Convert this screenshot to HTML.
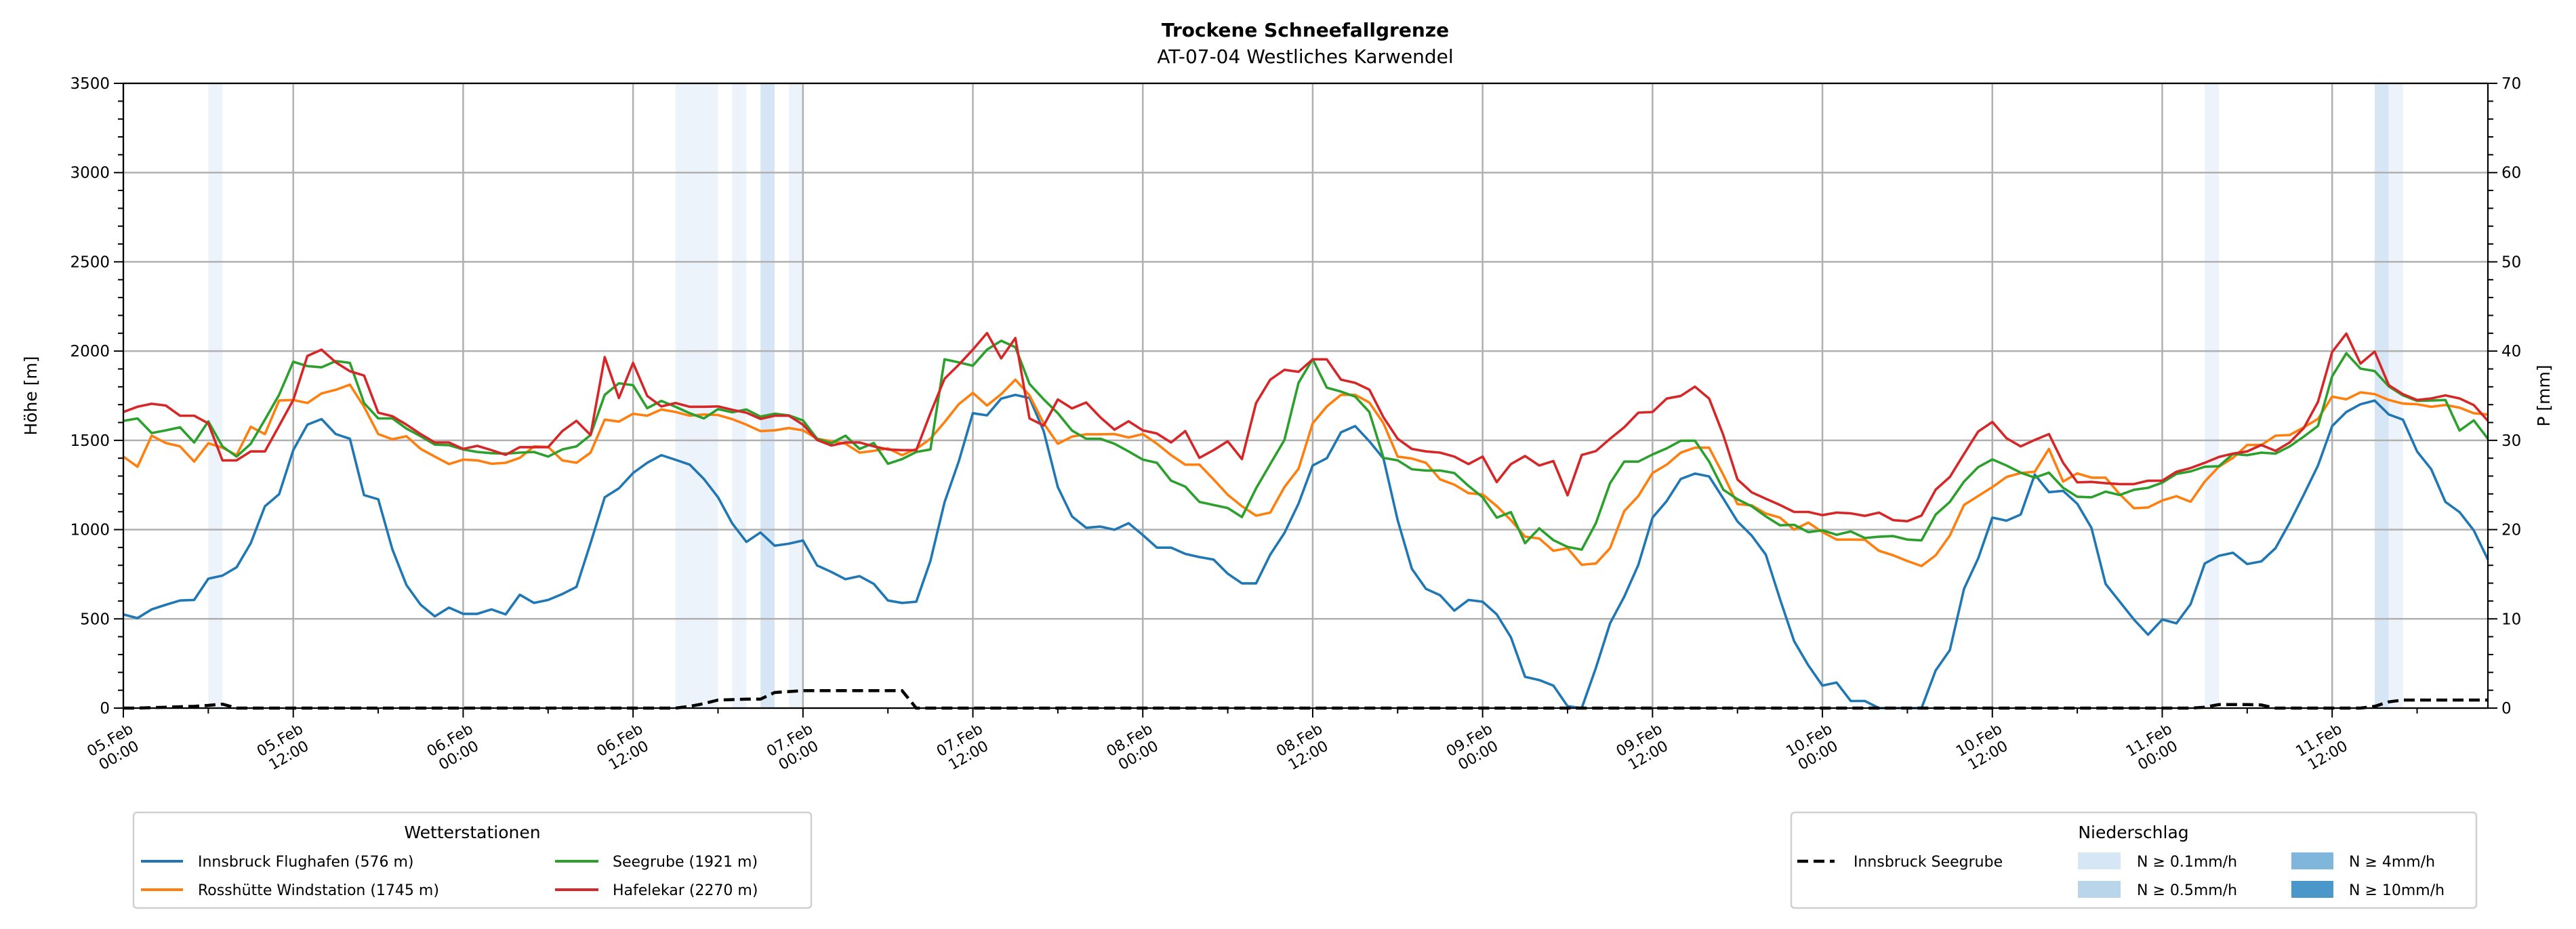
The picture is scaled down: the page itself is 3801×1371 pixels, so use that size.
<!DOCTYPE html>
<html><head><meta charset="utf-8">
<style>
html,body{margin:0;padding:0;background:#fff;}
svg{display:block;font-family:"DejaVu Sans","Liberation Sans",sans-serif;}
</style></head>
<body>
<svg id="chart" width="3801" height="1371" viewBox="0 0 3801 1371" xmlns="http://www.w3.org/2000/svg">
<rect width="3801" height="1371" fill="#fff"/>
<text x="1926" y="54" text-anchor="middle" font-size="28" font-weight="bold">Trockene Schneefallgrenze</text>
<text x="1926" y="93" text-anchor="middle" font-size="28">AT-07-04 Westliches Karwendel</text>
<g id="bands"></g>
<g id="grid"></g>
<g id="series"></g>
<g id="axes"></g>
<text transform="translate(54,584) rotate(-90)" text-anchor="middle" font-size="25">Höhe [m]</text>
<text transform="translate(3762,584) rotate(-90)" text-anchor="middle" font-size="25">P [mm]</text>

<g>
<rect x="197" y="1199" width="1000" height="141" rx="5" fill="#fff" stroke="#d0d0d0" stroke-width="2.5"/>
<text x="697" y="1237" text-anchor="middle" font-size="25">Wetterstationen</text>
<g><line x1="208" y1="1271" x2="270" y2="1271" stroke="#1f77b4" stroke-width="4"/><text x="292" y="1279" font-size="22">Innsbruck Flughafen (576 m)</text></g>
<g><line x1="208" y1="1313" x2="270" y2="1313" stroke="#ff7f0e" stroke-width="4"/><text x="292" y="1321" font-size="22">Rosshütte Windstation (1745 m)</text></g>
<g><line x1="819" y1="1271" x2="883" y2="1271" stroke="#2ca02c" stroke-width="4"/><text x="904" y="1279" font-size="22">Seegrube (1921 m)</text></g>
<g><line x1="819" y1="1313" x2="883" y2="1313" stroke="#d62728" stroke-width="4"/><text x="904" y="1321" font-size="22">Hafelekar (2270 m)</text></g>
</g>

<g>
<rect x="2643" y="1199" width="1011" height="141" rx="5" fill="#fff" stroke="#d0d0d0" stroke-width="2.5"/>
<text x="3148" y="1237" text-anchor="middle" font-size="25">Niederschlag</text>
<g><line x1="2652" y1="1271" x2="2707" y2="1271" stroke="#000" stroke-width="4.5" stroke-dasharray="16,8"/><text x="2735" y="1279" font-size="22">Innsbruck Seegrube</text></g>
<g><rect x="3066" y="1258" width="63" height="25" fill="#d6e6f4"/><text x="3153" y="1279" font-size="22">N ≥ 0.1mm/h</text></g>
<g><rect x="3066" y="1300" width="63" height="25" fill="#b8d5ea"/><text x="3153" y="1321" font-size="22">N ≥ 0.5mm/h</text></g>
<g><rect x="3381" y="1258" width="62" height="25" fill="#80b6db"/><text x="3466" y="1279" font-size="22">N ≥ 4mm/h</text></g>
<g><rect x="3381" y="1300" width="62" height="25" fill="#4a97c9"/><text x="3466" y="1321" font-size="22">N ≥ 10mm/h</text></g>
</g>
</svg>
<script>
const innsbruck = [525,504,553,579,603,606,725,742,789,924,1131,1198,1445,1588,1619,1535,1509,1193,1170,889,689,579,514,563,528,528,553,525,635,589,606,639,679,924,1181,1231,1317,1374,1417,1391,1364,1284,1181,1035,
931,984,910,921,939,799,763,722,739,696,603,589,596,825,1153,1381,1652,1640,1734,1755,1737,1552,1238,1074,1010,1017,999,1036,970,899,899,864,846,832,753,699,699,860,981,1146,1359,1400,
1545,1580,1495,1398,1053,781,668,632,546,606,596,525,397,175,157,126,11,0,225,475,624,803,1067,1160,1284,1314,1298,1174,1046,967,860,611,375,240,126,143,40,40,0,0,0,0,
211,325,668,839,1067,1050,1084,1309,1210,1217,1145,1010,696,596,496,411,496,475,582,810,853,870,807,822,896,1039,1196,1359,1580,1659,1702,1723,1645,1616,1438,1338,1155,1098,996,832];
const rosshuette = [1409,1352,1526,1485,1466,1381,1484,1459,1417,1576,1535,1723,1726,1709,1763,1783,1812,1688,1535,1506,1523,1452,1409,1367,1392,1388,1369,1374,1402,1466,1463,1388,1374,1431,1616,1605,1649,1638,1673,1659,1638,1645,1642,1619,
1588,1552,1556,1569,1556,1509,1495,1481,1431,1441,1455,1417,1452,1509,1602,1702,1766,1695,1759,1840,1752,1595,1481,1521,1534,1534,1535,1516,1535,1481,1417,1364,1364,1281,1195,1131,1078,1095,1238,1341,1595,1690,
1755,1755,1712,1595,1409,1398,1374,1281,1252,1204,1197,1132,1053,960,950,881,896,803,810,896,1103,1188,1317,1364,1431,1459,1459,1307,1143,1136,1090,1067,1000,1039,986,944,944,943,881,856,824,796,
856,967,1138,1188,1238,1295,1317,1324,1452,1269,1315,1291,1291,1198,1120,1124,1163,1187,1156,1269,1352,1402,1474,1474,1526,1530,1573,1620,1745,1730,1769,1759,1726,1706,1702,1688,1698,1683,1652,1645];
const seegrube = [1609,1623,1541,1556,1573,1488,1606,1466,1409,1481,1616,1755,1940,1916,1909,1944,1934,1709,1623,1623,1566,1523,1476,1473,1449,1435,1428,1426,1431,1435,1409,1449,1466,1530,1755,1820,1809,1680,1721,1688,1652,1623,1675,1657,
1673,1633,1649,1640,1612,1509,1484,1526,1452,1485,1369,1395,1435,1449,1954,1937,1918,2008,2058,2022,1816,1730,1652,1555,1509,1509,1481,1438,1392,1374,1274,1241,1155,1138,1121,1070,1231,1367,1502,1823,1955,1795,
1773,1745,1659,1402,1388,1338,1331,1331,1317,1245,1181,1067,1098,924,1007,941,903,888,1036,1260,1381,1381,1421,1455,1498,1498,1381,1224,1170,1131,1074,1024,1027,986,996,971,990,953,960,964,944,940,
1084,1155,1269,1350,1393,1359,1319,1291,1319,1234,1184,1181,1213,1194,1223,1234,1263,1312,1326,1352,1355,1424,1417,1431,1426,1466,1521,1581,1859,1988,1902,1888,1802,1752,1721,1723,1726,1555,1612,1509];
const hafelekar = [1659,1688,1705,1695,1638,1638,1595,1388,1388,1438,1438,1581,1726,1973,2008,1937,1887,1863,1655,1635,1588,1535,1488,1488,1452,1469,1445,1419,1462,1462,1462,1552,1609,1530,1966,1737,1934,1749,1690,1709,1688,1688,1690,1671,
1655,1620,1638,1638,1588,1502,1471,1488,1488,1466,1449,1445,1445,1652,1845,1923,2008,2101,1959,2073,1623,1583,1729,1679,1712,1629,1560,1607,1556,1538,1488,1552,1402,1445,1495,1395,1709,1840,1895,1884,1954,1954,
1840,1822,1784,1629,1509,1452,1438,1431,1409,1367,1409,1266,1367,1412,1359,1384,1192,1418,1440,1509,1573,1655,1659,1734,1749,1801,1734,1530,1281,1209,1173,1138,1099,1099,1081,1095,1091,1077,1095,1053,1047,1079,
1224,1295,1424,1549,1603,1512,1466,1502,1535,1374,1265,1267,1260,1255,1255,1274,1274,1324,1345,1374,1407,1426,1438,1474,1441,1488,1569,1716,1995,2098,1930,1997,1809,1759,1726,1735,1752,1735,1698,1609];
const precipHours = [2,3,4,5,6,7,40,41,42,43,44,45,46,47,48,49,50,51,52,53,54,55,147,148,149,150,151,159,160,161,162,163,164,165,166,167];
const precipValues = [0.05,0.1,0.15,0.2,0.3,0.45,0.2,0.5,0.9,0.95,1.0,1.0,1.75,1.85,1.95,1.95,1.95,1.95,1.95,1.95,1.95,1.95,0.1,0.4,0.4,0.4,0.35,0.2,0.7,0.9,0.9,0.9,0.9,0.9,0.9,0.9];
const bandStarts = [6,39,40,41,43,45,47,147,159,160];
const bandLevels = [0.1,0.1,0.1,0.1,0.1,0.5,0.1,0.1,0.5,0.1];
const yTicks = [0,500,1000,1500,2000,2500,3000,3500];
const y2Ticks = [0,10,20,30,40,50,60,70];
const xTickHours = [0,12,24,36,48,60,72,84,96,108,120,132,144,156];
const xTickLabels = [["05.Feb","00:00"],["05.Feb","12:00"],["06.Feb","00:00"],["06.Feb","12:00"],["07.Feb","00:00"],["07.Feb","12:00"],["08.Feb","00:00"],["08.Feb","12:00"],["09.Feb","00:00"],["09.Feb","12:00"],["10.Feb","00:00"],["10.Feb","12:00"],["11.Feb","00:00"],["11.Feb","12:00"]];

const NS="http://www.w3.org/2000/svg";
const X0=182,X1=3671,YB=1045,YT=123,XMAX=167,YMAX=3500,PMAX=70;
const xs=h=>X0+(X1-X0)*h/XMAX;
const ys=v=>YB-(YB-YT)*v/YMAX;
const ps=v=>YB-(YB-YT)*v/PMAX;
function mk(tag,attrs,parent){const e=document.createElementNS(NS,tag);for(const k in attrs)e.setAttribute(k,attrs[k]);parent.appendChild(e);return e;}
const gB=document.getElementById('bands'),gG=document.getElementById('grid'),gS=document.getElementById('series'),gA=document.getElementById('axes');

bandStarts.forEach((b,i)=>{
  const r=mk('rect',{x:xs(b),y:YT,width:xs(b+1)-xs(b),height:YB-YT,fill:bandLevels[i]>=0.5?'#d6e6f4':'#edf3fb'},gB);
  
  
});
yTicks.forEach(v=>{
  const l=mk('line',{x1:X0,x2:X1,y1:ys(v),y2:ys(v),stroke:'#b0b0b0','stroke-width':2.5},gG);
  
  
});
xTickHours.forEach(h=>{
  const l=mk('line',{x1:xs(h),x2:xs(h),y1:YT,y2:YB,stroke:'#b0b0b0','stroke-width':2.5},gG);
  
  
});
function line(arr,color,name){
  const d=arr.map((v,i)=>(i?'L':'M')+xs(i).toFixed(1)+','+ys(v).toFixed(1)).join('');
  const p=mk('path',{d:d,fill:'none',stroke:color,'stroke-width':3.6,'stroke-linejoin':'round'},gS);
  
  
}
line(innsbruck,'#1f77b4','line-innsbruck');
line(rosshuette,'#ff7f0e','line-rosshuette');
line(seegrube,'#2ca02c','line-seegrube');
line(hafelekar,'#d62728','line-hafelekar');
const pr=[];for(let h=0;h<=XMAX;h++)pr.push(0);
precipHours.forEach((h,i)=>{pr[h]=precipValues[i];});
const pd=pr.map((v,i)=>(i?'L':'M')+xs(i).toFixed(1)+','+ps(v).toFixed(1)).join('');
const pp=mk('path',{d:pd,fill:'none',stroke:'#000','stroke-width':4.5,'stroke-dasharray':'16,8'},gS);



mk('rect',{x:X0,y:YT,width:X1-X0,height:YB-YT,fill:'none',stroke:'#000','stroke-width':2.2},gA);
for(let v=0;v<=YMAX;v+=100){
  const major=v%500===0;
  mk('line',{x1:X0-(major?14:8),x2:X0,y1:ys(v),y2:ys(v),stroke:'#000','stroke-width':2},gA);
}
yTicks.forEach(v=>{
  const t=mk('text',{x:X0-20,y:ys(v)+8,'text-anchor':'end','font-size':23},gA);
  t.textContent=v;
  
  
});
for(let v=0;v<=PMAX;v+=2){
  const major=v%10===0;
  mk('line',{x1:X1,x2:X1+(major?14:8),y1:ps(v),y2:ps(v),stroke:'#000','stroke-width':2},gA);
}
y2Ticks.forEach(v=>{
  const t=mk('text',{x:X1+20,y:ps(v)+8,'text-anchor':'start','font-size':23},gA);
  t.textContent=v;
  
  
});
for(let h=0;h<XMAX;h+=6){
  const major=h%12===0;
  mk('line',{x1:xs(h),x2:xs(h),y1:YB,y2:YB+(major?14:8),stroke:'#000','stroke-width':2},gA);
}
xTickHours.forEach((h,i)=>{
  const cx=xs(h)-14,cy=1102;
  const t=mk('text',{'text-anchor':'middle','font-size':22,transform:'rotate(-30,'+cx+','+cy+')'},gA);
  
  
  const a=mk('tspan',{x:cx,y:cy-4},t);a.textContent=xTickLabels[i][0];
  const b=mk('tspan',{x:cx,y:cy+22},t);b.textContent=xTickLabels[i][1];
});
</script>
</body></html>
